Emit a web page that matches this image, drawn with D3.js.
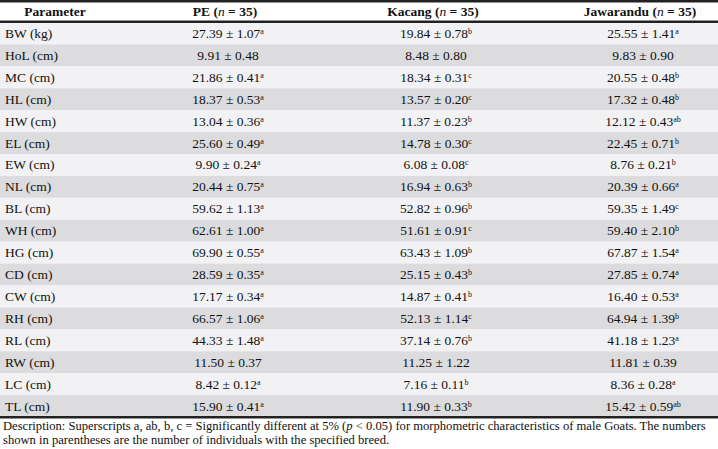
<!DOCTYPE html>
<html><head><meta charset="utf-8">
<script src="https://cdn.jsdelivr.net/npm/d3@7"></script>
<style>body{margin:0;background:#fff}svg{display:block}</style>
</head><body><svg id="c" width="718" height="449"></svg>
<script>
const parameters=["BW (kg)","HoL (cm)","MC (cm)","HL (cm)","HW (cm)","EL (cm)","EW (cm)","NL (cm)","BL (cm)","WH (cm)","HG (cm)","CD (cm)","CW (cm)","RH (cm)","RL (cm)","RW (cm)","LC (cm)","TL (cm)"];
const breeds=["PE","Kacang","Jawarandu"];
const peValues=[["27.39 ± 1.07","a"],["9.91 ± 0.48",""],["21.86 ± 0.41","a"],["18.37 ± 0.53","a"],["13.04 ± 0.36","a"],["25.60 ± 0.49","a"],["9.90 ± 0.24","a"],["20.44 ± 0.75","a"],["59.62 ± 1.13","a"],["62.61 ± 1.00","a"],["69.90 ± 0.55","a"],["28.59 ± 0.35","a"],["17.17 ± 0.34","a"],["66.57 ± 1.06","a"],["44.33 ± 1.48","a"],["11.50 ± 0.37",""],["8.42 ± 0.12","a"],["15.90 ± 0.41","a"]];
const kacangValues=[["19.84 ± 0.78","b"],["8.48 ± 0.80",""],["18.34 ± 0.31","c"],["13.57 ± 0.20","c"],["11.37 ± 0.23","b"],["14.78 ± 0.30","c"],["6.08 ± 0.08","c"],["16.94 ± 0.63","b"],["52.82 ± 0.96","b"],["51.61 ± 0.91","c"],["63.43 ± 1.09","b"],["25.15 ± 0.43","b"],["14.87 ± 0.41","b"],["52.13 ± 1.14","c"],["37.14 ± 0.76","b"],["11.25 ± 1.22",""],["7.16 ± 0.11","b"],["11.90 ± 0.33","b"]];
const jawarValues=[["25.55 ± 1.41","a"],["9.83 ± 0.90",""],["20.55 ± 0.48","b"],["17.32 ± 0.48","b"],["12.12 ± 0.43","ab"],["22.45 ± 0.71","b"],["8.76 ± 0.21","b"],["20.39 ± 0.66","a"],["59.35 ± 1.49","c"],["59.40 ± 2.10","b"],["67.87 ± 1.54","a"],["27.85 ± 0.74","a"],["16.40 ± 0.53","a"],["64.94 ± 1.39","b"],["41.18 ± 1.23","a"],["11.81 ± 0.39",""],["8.36 ± 0.28","a"],["15.42 ± 0.59","ab"]];
const notes=[["Description: Superscripts a, ab, b, c = Significantly different at 5% (","p"," < 0.05) for morphometric characteristics of male Goats. The numbers"],["shown in parentheses are the number of individuals with the specified breed.","",""]];
const cols=[peValues,kacangValues,jawarValues];
const svg=d3.select("#c");
const F="'Liberation Serif','Times New Roman',serif";
const y=d3.scaleBand().domain(parameters).range([22.5,417]);
const xc=d3.scaleOrdinal().domain(["Parameter",...breeds]).range([55,225,433,640]);
svg.selectAll("rect.row").data(parameters).join("rect").attr("x",0).attr("width",718)
 .attr("y",d=>y(d)).attr("height",y.bandwidth()).attr("fill",(d,i)=>i%2?"#dcdcde":"#f2f2f4");
[[0],[20.5],[416]].forEach(([yy])=>svg.append("rect").attr("x",0).attr("width",718).attr("y",yy).attr("height",2.5).attr("fill","#222"));
const hdr=svg.append("g").attr("font-family",F).attr("font-size",13.5).attr("font-weight","bold").attr("fill","#111");
hdr.append("text").attr("x",xc("Parameter")).attr("y",16).attr("text-anchor","middle").text("Parameter");
breeds.forEach(b=>{const t=hdr.append("text").attr("x",xc(b)).attr("y",16).attr("text-anchor","middle");
 t.append("tspan").text(b+" (");t.append("tspan").attr("font-style","italic").attr("font-weight","normal").text("n");t.append("tspan").text(" = 35)");});
const body=svg.append("g").attr("font-family",F).attr("font-size",13.5).attr("fill","#111");
body.selectAll("text.p").data(parameters).join("text").attr("x",5).attr("y",d=>y(d)+y.bandwidth()/2+4.5).text(d=>d);
cols.forEach((col,ci)=>{
 body.selectAll("text.c"+ci).data(col).join("text").attr("text-anchor","middle")
  .attr("x",xc(breeds[ci])+3).attr("y",(d,i)=>y(parameters[i])+y.bandwidth()/2+4.5)
  .each(function(d){const t=d3.select(this);t.append("tspan").text(d[0]);
   if(d[1])t.append("tspan").attr("font-size",8).attr("dy",-4).text(d[1]);});
});
const nt=svg.append("g").attr("font-family",F).attr("font-size",12.6).attr("fill","#111");
nt.selectAll("text").data(notes).join("text").attr("x",3).attr("y",(d,i)=>430+i*14)
 .each(function(d){const t=d3.select(this);t.append("tspan").text(d[0]);
  if(d[1])t.append("tspan").attr("font-style","italic").text(d[1]);if(d[2])t.append("tspan").text(d[2]);});
</script></body></html>
